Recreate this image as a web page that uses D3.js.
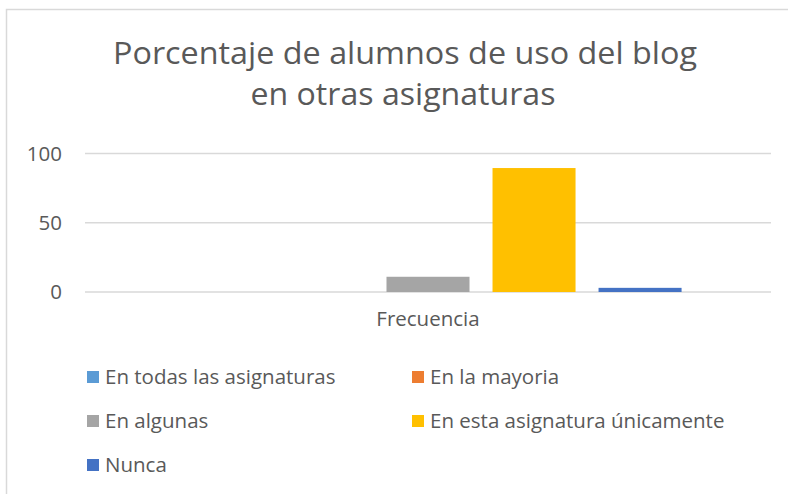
<!DOCTYPE html>
<html>
<head>
<meta charset="utf-8">
<script src="https://cdn.jsdelivr.net/npm/d3@7"></script>
<style>
  body { margin: 0; background: #fff; }
  text { font-family: "Open Sans", sans-serif; fill: #595959; }
</style>
</head>
<body>
<div id="chart"></div>
<script>
// data
var categories = ["Frecuencia"];
var seriesNames = [
  "En todas las asignaturas",
  "En la mayoria",
  "En algunas",
  "En esta asignatura únicamente",
  "Nunca"
];
var seriesValues = [0, 0, 11, 89.5, 3];
var seriesColors = ["#5B9BD5", "#ED7D31", "#A5A5A5", "#FFC000", "#4472C4"];
var yTicks = [0, 50, 100];
var titleLines = ["Porcentaje de alumnos de uso del blog", "en otras asignaturas"];

var width = 788, height = 494;
var plot = { left: 85, right: 771, top: 153.5, bottom: 292 };

var svg = d3.select("#chart")
  .append("svg")
  .attr("width", width)
  .attr("height", height);

// chart frame (only top and left edges are visible in the crop)
svg.append("path")
  .attr("d", "M6.5,494 V9.5 H788")
  .attr("fill", "none")
  .attr("stroke", "#D9D9D9")
  .attr("stroke-width", 1.5);

// title
svg.append("text")
  .text(titleLines[0])
  .attr("x", 405).attr("y", 64)
  .attr("text-anchor", "middle")
  .attr("textLength", 584)
  .attr("lengthAdjust", "spacingAndGlyphs")
  .style("font-size", "31px");
svg.append("text")
  .text(titleLines[1])
  .attr("x", 403).attr("y", 105)
  .attr("text-anchor", "middle")
  .attr("textLength", 305)
  .attr("lengthAdjust", "spacingAndGlyphs")
  .style("font-size", "31px");

// scales
var yScale = d3.scaleLinear()
  .domain([0, 100])
  .range([plot.bottom, plot.top]);

var x0 = d3.scaleBand()
  .domain(categories)
  .range([plot.left, plot.right])
  .paddingInner(0)
  .paddingOuter(0.147);

var x1 = d3.scaleBand()
  .domain(seriesNames)
  .range([0, x0.bandwidth()])
  .paddingInner(0.217)
  .paddingOuter(0.1085);

// gridlines
svg.append("g")
  .selectAll("line")
  .data(yTicks)
  .enter()
  .append("line")
  .attr("x1", plot.left)
  .attr("x2", plot.right)
  .attr("y1", function(d) { return yScale(d); })
  .attr("y2", function(d) { return yScale(d); })
  .attr("stroke", "#D9D9D9")
  .attr("stroke-width", 1.4);

// y axis labels
var yAxis = d3.axisLeft(yScale).tickValues(yTicks).tickSize(0).tickPadding(0);
var yG = svg.append("g")
  .attr("transform", "translate(62,0)")
  .call(yAxis);
yG.select(".domain").remove();
yG.selectAll("text")
  .style("font-size", "20.5px")
  .style("font-family", "'Open Sans', sans-serif")
  .attr("fill", "#595959");

// bars
var rows = seriesNames.map(function(name, i) {
  return { cat: categories[0], name: name, value: seriesValues[i], color: seriesColors[i] };
});

svg.append("g")
  .selectAll("rect")
  .data(rows)
  .enter()
  .append("rect")
  .attr("x", function(d) { return x0(d.cat) + x1(d.name); })
  .attr("y", function(d) { return yScale(d.value); })
  .attr("width", x1.bandwidth())
  .attr("height", function(d) { return yScale(0) - yScale(d.value); })
  .attr("fill", function(d) { return d.color; });

// x axis label
var xAxis = d3.axisBottom(x0).tickSize(0).tickPadding(0);
var xG = svg.append("g")
  .attr("transform", "translate(0,311)")
  .call(xAxis);
xG.select(".domain").remove();
xG.selectAll("text")
  .style("font-size", "20.5px")
  .style("font-family", "'Open Sans', sans-serif")
  .attr("fill", "#595959");

// legend
var legend = svg.append("g")
  .selectAll("g")
  .data(rows)
  .enter()
  .append("g")
  .attr("transform", function(d, i) {
    var col = i % 2, row = Math.floor(i / 2);
    return "translate(" + (87 + col * 325) + "," + (377 + row * 44) + ")";
  });

legend.append("rect")
  .attr("x", 0).attr("y", -6)
  .attr("width", 12).attr("height", 12)
  .attr("fill", function(d) { return d.color; });

legend.append("text")
  .attr("x", 18)
  .attr("y", 0)
  .attr("dy", "0.35em")
  .style("font-size", "20.5px")
  .text(function(d) { return d.name; });
</script>
</body>
</html>
